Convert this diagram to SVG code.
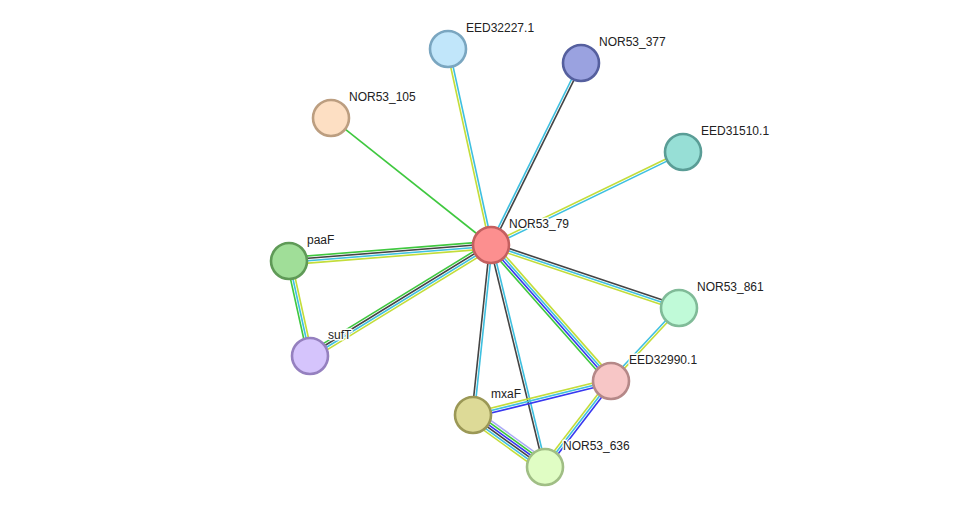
<svg xmlns="http://www.w3.org/2000/svg" width="976" height="513" viewBox="0 0 976 513">
<style>
line{stroke-width:1.6;fill:none}
.g{stroke:#3fc83f}.k{stroke:#444444}.c{stroke:#3ec0e0}.y{stroke:#c3dd3a}.b{stroke:#3838f0}.p{stroke:#aaaaf6}
circle{stroke-width:2.6}
text{font-family:"Liberation Sans",Arial,sans-serif;font-size:12px;fill:#222;stroke:#fff;stroke-width:3;paint-order:stroke;stroke-linejoin:round}
</style>
<rect width="976" height="513" fill="#fff"/>
<g id="edges">
<g transform="translate(491,245) rotate(-102.37)"><line class="c" x1="0" y1="1.2" x2="200.7" y2="1.2"/><line class="y" x1="0" y1="-1.2" x2="200.7" y2="-1.2"/></g>
<g transform="translate(491,245) rotate(-63.69)"><line class="k" x1="0" y1="1.2" x2="203" y2="1.2"/><line class="c" x1="0" y1="-1.2" x2="203" y2="-1.2"/></g>
<g transform="translate(491,245) rotate(-141.56)"><line class="g" x1="0" y1="0" x2="204.3" y2="0"/></g>
<g transform="translate(491,245) rotate(-25.84)"><line class="c" x1="0" y1="1.2" x2="213.3" y2="1.2"/><line class="y" x1="0" y1="-1.2" x2="213.3" y2="-1.2"/></g>
<g transform="translate(491,245) rotate(175.47)"><line class="g" x1="0" y1="3.6" x2="202.6" y2="3.6"/><line class="k" x1="0" y1="1.2" x2="202.6" y2="1.2"/><line class="c" x1="0" y1="-1.2" x2="202.6" y2="-1.2"/><line class="y" x1="0" y1="-3.6" x2="202.6" y2="-3.6"/></g>
<g transform="translate(491,245) rotate(148.48)"><line class="g" x1="0" y1="3.6" x2="212.3" y2="3.6"/><line class="k" x1="0" y1="1.2" x2="212.3" y2="1.2"/><line class="c" x1="0" y1="-1.2" x2="212.3" y2="-1.2"/><line class="y" x1="0" y1="-3.6" x2="212.3" y2="-3.6"/></g>
<g transform="translate(289,261) rotate(77.54)"><line class="g" x1="0" y1="2.4" x2="97.3" y2="2.4"/><line class="c" x1="0" y1="0" x2="97.3" y2="0"/><line class="y" x1="0" y1="-2.4" x2="97.3" y2="-2.4"/></g>
<g transform="translate(491,245) rotate(18.53)"><line class="y" x1="0" y1="2.4" x2="198.3" y2="2.4"/><line class="c" x1="0" y1="0" x2="198.3" y2="0"/><line class="k" x1="0" y1="-2.4" x2="198.3" y2="-2.4"/></g>
<g transform="translate(491,245) rotate(48.58)"><line class="g" x1="0" y1="3.6" x2="181.4" y2="3.6"/><line class="b" x1="0" y1="1.2" x2="181.4" y2="1.2"/><line class="c" x1="0" y1="-1.2" x2="181.4" y2="-1.2"/><line class="y" x1="0" y1="-3.6" x2="181.4" y2="-3.6"/></g>
<g transform="translate(491,245) rotate(96.04)"><line class="k" x1="0" y1="1.2" x2="171" y2="1.2"/><line class="c" x1="0" y1="-1.2" x2="171" y2="-1.2"/></g>
<g transform="translate(491,245) rotate(76.33)"><line class="k" x1="0" y1="1.2" x2="228.5" y2="1.2"/><line class="c" x1="0" y1="-1.2" x2="228.5" y2="-1.2"/></g>
<g transform="translate(679,308) rotate(132.97)"><line class="c" x1="0" y1="1.2" x2="99.8" y2="1.2"/><line class="y" x1="0" y1="-1.2" x2="99.8" y2="-1.2"/></g>
<g transform="translate(473,415) rotate(-13.84)"><line class="b" x1="0" y1="2.4" x2="142.1" y2="2.4"/><line class="c" x1="0" y1="0" x2="142.1" y2="0"/><line class="y" x1="0" y1="-2.4" x2="142.1" y2="-2.4"/></g>
<g transform="translate(611,381) rotate(127.5)"><line class="y" x1="0" y1="2.4" x2="108.4" y2="2.4"/><line class="c" x1="0" y1="0" x2="108.4" y2="0"/><line class="b" x1="0" y1="-2.4" x2="108.4" y2="-2.4"/></g>
<g transform="translate(473,415) rotate(35.84)"><line class="y" x1="0" y1="6" x2="88.8" y2="6"/><line class="c" x1="0" y1="3.6" x2="88.8" y2="3.6"/><line class="k" x1="0" y1="1.2" x2="88.8" y2="1.2"/><line class="b" x1="0" y1="-1.2" x2="88.8" y2="-1.2"/><line class="g" x1="0" y1="-3.6" x2="88.8" y2="-3.6"/><line class="p" x1="0" y1="-6" x2="88.8" y2="-6"/></g>
</g>
<g id="NOR53_79"><circle cx="491" cy="245" r="18" fill="#fc8f8f" stroke="#c45f5f"/><text x="509" y="228">NOR53_79</text></g>
<g id="EED32227.1"><circle cx="448" cy="49" r="18" fill="#c1e6fa" stroke="#7aa6c0"/><text x="466" y="32">EED32227.1</text></g>
<g id="NOR53_377"><circle cx="581" cy="63" r="18" fill="#9aa2e0" stroke="#555f9e"/><text x="599" y="46">NOR53_377</text></g>
<g id="NOR53_105"><circle cx="331" cy="118" r="18" fill="#fddfc3" stroke="#bc9e80"/><text x="349" y="101">NOR53_105</text></g>
<g id="EED31510.1"><circle cx="683" cy="152" r="18" fill="#97dfd6" stroke="#5a9d96"/><text x="701" y="135">EED31510.1</text></g>
<g id="paaF"><circle cx="289" cy="261" r="18" fill="#a0de98" stroke="#5f9a57"/><text x="307" y="244">paaF</text></g>
<g id="sufT"><circle cx="310" cy="356" r="18" fill="#d5c4fc" stroke="#9580bf"/><text x="328" y="339">sufT</text></g>
<g id="NOR53_861"><circle cx="679" cy="308" r="18" fill="#c0fad8" stroke="#80bb98"/><text x="697" y="291">NOR53_861</text></g>
<g id="EED32990.1"><circle cx="611" cy="381" r="18" fill="#f7c6c6" stroke="#b58888"/><text x="629" y="364">EED32990.1</text></g>
<g id="mxaF"><circle cx="473" cy="415" r="18" fill="#ddda97" stroke="#9b9856"/><text x="491" y="398">mxaF</text></g>
<g id="NOR53_636"><circle cx="545" cy="467" r="18" fill="#e0fdc4" stroke="#a0be85"/><text x="563" y="450">NOR53_636</text></g>
</svg>
